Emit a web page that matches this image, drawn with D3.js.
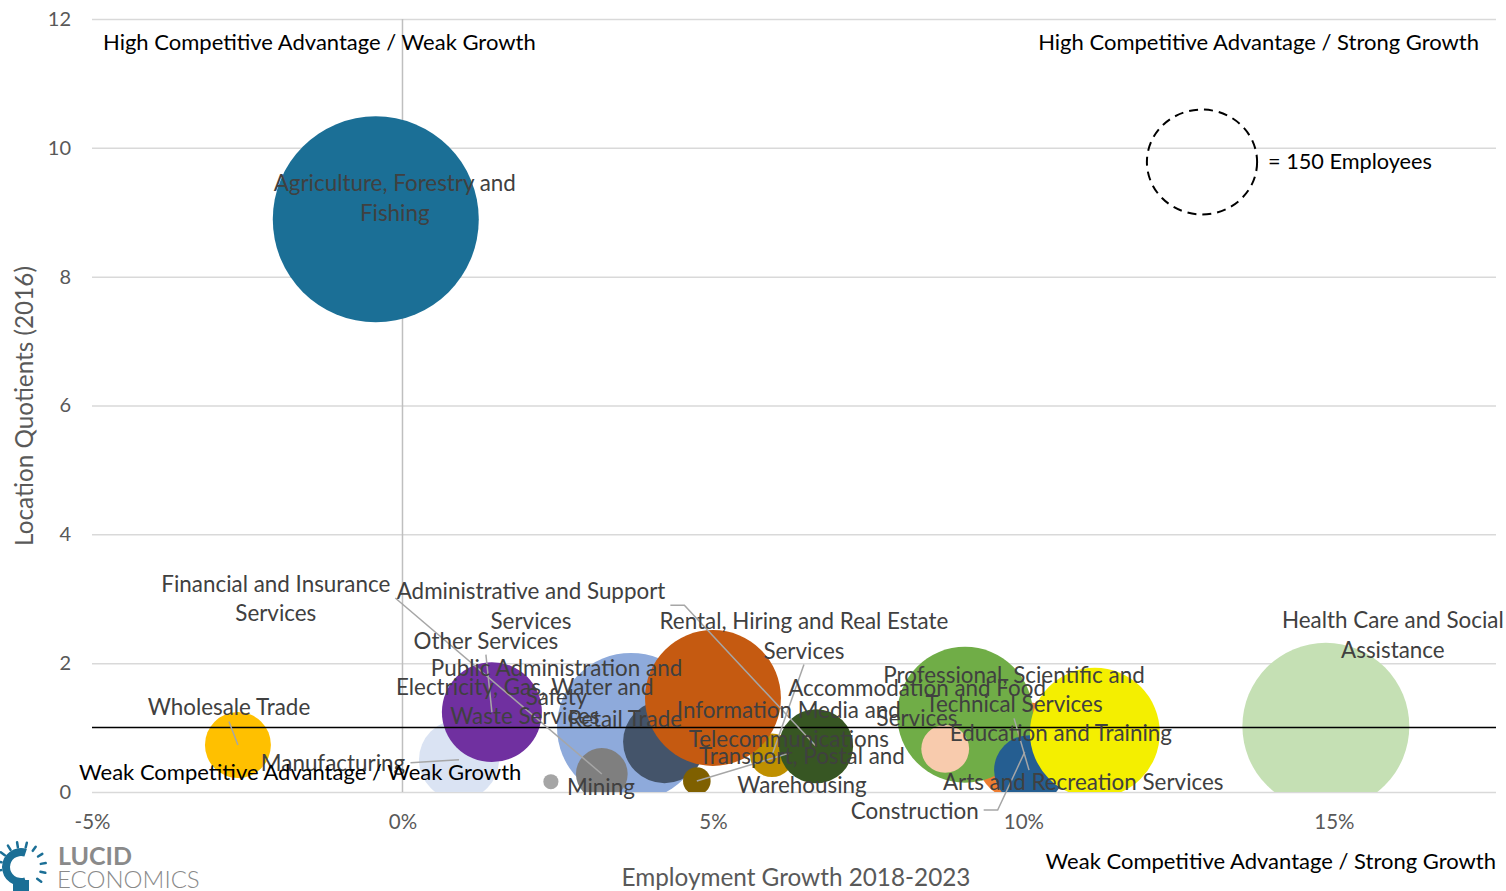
<!DOCTYPE html>
<html>
<head>
<meta charset="utf-8">
<script src="https://cdn.jsdelivr.net/npm/d3@7"></script>
<style>
  html, body { margin: 0; padding: 0; background: #fff; }
  svg { display: block; font-family: Lato, "Open Sans", sans-serif; }
</style>
</head>
<body>
<svg id="chart" width="1506" height="891"></svg>
<script>
// Industry divisions, in drawing order (later ones sit on top)
const industries = [
  "Agriculture, Forestry and Fishing",
  "Health Care and Social Assistance",
  "Retail Trade",
  "Public Administration and Safety",
  "Mining",
  "Financial and Insurance Services",
  "Manufacturing",
  "Electricity, Gas, Water and Waste Services",
  "Other Services",
  "Wholesale Trade",
  "Rental, Hiring and Real Estate Services",
  "Transport, Postal and Warehousing",
  "Information Media and Telecommunications",
  "Administrative and Support Services",
  "Construction",
  "Accommodation and Food Services",
  "Arts and Recreation Services",
  "Professional, Scientific and Technical Services",
  "Education and Training"
];
// Employment growth 2018-2023 (%)
const growth = [-0.43, 14.87, 3.68, 4.22, 2.39, 3.21, 0.91, 1.97, 1.44, -2.65,
                5.95, 5.00, 4.74, 6.66, 10.02, 9.06, 8.74, 10.09, 11.15];
// Location quotients (2016)
const lq = [8.89, 1.02, 1.01, 0.78, 0.16, 0.28, 0.50, 1.41, 1.24, 0.73,
            0.57, 1.46, 0.17, 0.71, 0.62, 1.20, 0.67, 0.34, 0.92];
// Employees (bubble size)
const employees = [556, 365, 287, 90, 3, 35, 84, 5, 131, 57,
                   25, 242, 10, 72, 131, 242, 30, 64, 221];

const xTicks = [-5, 0, 5, 10, 15];
const yTicks = [0, 2, 4, 6, 8, 10, 12];
const legendEmployees = 150;

// Bubble fills, same order as the industries
const fills = ["#1b6f96", "#c5e0b4", "#8eaadb", "#44546a", "#a5a5a5", "#7f7f7f",
               "#dae3f3", "#7030a0", "#7030a0", "#ffc000", "#bf9000", "#c55a11",
               "#7f6000", "#375623", "#ed7d31", "#70ad47", "#f8cbad", "#255e91",
               "#f4ef00"];

// Data-label placement: pixel offset of the label block from the bubble centre,
// and where a leader line leaves the label (null = no leader)
const labelLayout = [
  {dx: 19, dy: -22, lines: ["Agriculture, Forestry and", "Fishing"], leader: null},
  {dx: 67, dy: -92, lines: ["Health Care and Social", "Assistance"], leader: null},
  {dx: -6, dy: -8, lines: ["Retail Trade"], leader: null},
  {dx: -108, dy: -60, lines: ["Public Administration and", "Safety"], leader: null},
  {dx: 50, dy: 5, lines: ["Mining"], leader: null},
  {dx: -326, dy: -176, lines: ["Financial and Insurance", "Services"], leader: "right"},
  {dx: -126, dy: 3, lines: ["Manufacturing"], leader: "right"},
  {dx: 0, dy: 0, lines: ["Electricity, Gas, Water and", "Waste Services"], leader: null},
  {dx: -6, dy: -72, lines: ["Other Services"], leader: "bottom"},
  {dx: -9, dy: -38, lines: ["Wholesale Trade"], leader: "bottom"},
  {dx: 32, dy: -120, lines: ["Rental, Hiring and Real Estate", "Services"], leader: "bottom"},
  {dx: 89, dy: 72, lines: ["Transport, Postal and", "Warehousing"], leader: null},
  {dx: 92, dy: -57, lines: ["Information Media and", "Telecommunications"], leader: "bottom"},
  {dx: -285, dy: -141, lines: ["Administrative and Support", "Services"], leader: "rightStub"},
  {dx: -110, dy: 58, lines: ["Construction"], leader: "rightStub"},
  {dx: -48, dy: -12, lines: ["Accommodation and Food", "Services"], leader: null},
  {dx: 138, dy: 33, lines: ["Arts and Recreation Services"], leader: null},
  {dx: -15, dy: -81, lines: ["Professional, Scientific and", "Technical Services"], leader: "bottom"},
  {dx: -34, dy: 0, lines: ["Education and Training"], leader: null}
];

const W = 1506, H = 891;
const plot = {left: 92, right: 1496, top: 19, bottom: 792};

const svg = d3.select("#chart");
svg.append("rect").attr("width", W).attr("height", H).attr("fill", "#fff");

const x = d3.scaleLinear().domain([-5, 17.61]).range([plot.left, plot.right]);
const y = d3.scaleLinear().domain([0, 12]).range([plot.bottom, plot.top]);
const r = d3.scaleSqrt().domain([0, legendEmployees]).range([0, 53.5]);

// Horizontal gridlines and y tick labels
const yAxis = d3.axisLeft(y).tickValues(yTicks).tickSize(-(plot.right - plot.left)).tickPadding(21)
  .tickFormat(d3.format("d"));
const gy = svg.append("g").attr("transform", `translate(${plot.left},0)`).call(yAxis);
gy.select(".domain").remove();
gy.selectAll(".tick line").attr("stroke", "#d9d9d9").attr("stroke-width", 1.5);
gy.selectAll(".tick text").attr("fill", "#595959").style("font-size", "20px")
  .style("font-family", "Lato, sans-serif");

// x tick labels
const xAxis = d3.axisBottom(x).tickValues(xTicks).tickSize(0).tickPadding(22)
  .tickFormat(d => d + "%");
const gx = svg.append("g").attr("transform", `translate(0,${plot.bottom})`).call(xAxis);
gx.select(".domain").remove();
gx.selectAll(".tick text").attr("fill", "#595959").style("font-size", "20.5px")
  .style("font-family", "Lato, sans-serif");

// Zero-growth divider
svg.append("line")
  .attr("x1", x(0)).attr("x2", x(0)).attr("y1", plot.top).attr("y2", plot.bottom)
  .attr("stroke", "#bfbfbf").attr("stroke-width", 1.5);

// Bubbles
svg.append("clipPath").attr("id", "plot-clip").append("rect")
  .attr("x", plot.left).attr("y", plot.top)
  .attr("width", plot.right - plot.left).attr("height", plot.bottom - plot.top);

const rows = industries.map((name, i) => ({
  name, g: growth[i], q: lq[i], e: employees[i], fill: fills[i], lab: labelLayout[i]
}));

svg.append("g").attr("clip-path", "url(#plot-clip)")
  .selectAll("circle").data(rows).join("circle")
  .attr("cx", d => x(d.g)).attr("cy", d => y(d.q)).attr("r", d => r(d.e))
  .attr("fill", d => d.fill);

// LQ = 1 reference line
svg.append("line")
  .attr("x1", plot.left).attr("x2", plot.right).attr("y1", y(1)).attr("y2", y(1))
  .attr("stroke", "#000").attr("stroke-width", 1.5);

// Data labels
const lineGap = 29.5;
const leaderLayer = svg.append("g");
const labelLayer = svg.append("g");
rows.forEach(d => {
  const cx = x(d.g) + d.lab.dx, cy = y(d.q) + d.lab.dy;
  const n = d.lab.lines.length;
  const t = labelLayer.append("text")
    .attr("text-anchor", "middle").attr("fill", "#404040")
    .style("font-size", "22.4px");
  d.lab.lines.forEach((ln, k) => {
    t.append("tspan").attr("x", cx)
      .attr("y", cy + (k - (n - 1) / 2) * lineGap)
      .attr("dominant-baseline", "central").text(ln);
  });
  if (d.lab.leader) {
    const bb = t.node().getBBox();
    const px = x(d.g), py = y(d.q);
    let pts;
    if (d.lab.leader === "bottom") {
      pts = [[cx, bb.y + bb.height + 1], [px, py]];
    } else if (d.lab.leader === "right") {
      pts = [[bb.x + bb.width + 5, cy], [px, py]];
    } else {
      const sx = bb.x + bb.width + 5;
      pts = [[sx, cy], [sx + 14, cy], [px, py]];
    }
    leaderLayer.append("path").attr("d", d3.line()(pts))
      .attr("fill", "none").attr("stroke", "#a6a6a6").attr("stroke-width", 1.5);
  }
});

// Quadrant captions
const quad = svg.append("g").attr("fill", "#000").style("font-size", "22px");
quad.append("text").attr("x", 103).attr("y", 41).attr("dominant-baseline", "central")
  .text("High Competitive Advantage / Weak Growth");
quad.append("text").attr("x", 1479).attr("y", 41).attr("text-anchor", "end")
  .attr("dominant-baseline", "central").text("High Competitive Advantage / Strong Growth");
quad.append("text").attr("x", 79).attr("y", 771).attr("dominant-baseline", "central")
  .text("Weak Competitive Advantage / Weak Growth");
quad.append("text").attr("x", 1496).attr("y", 860).attr("text-anchor", "end")
  .attr("dominant-baseline", "central").text("Weak Competitive Advantage / Strong Growth");

// Bubble size key
const key = svg.append("g");
key.append("ellipse").attr("cx", 1202).attr("cy", 162)
  .attr("rx", r(legendEmployees) * 1.03).attr("ry", r(legendEmployees) * 0.98)
  .attr("fill", "none").attr("stroke", "#000").attr("stroke-width", 2)
  .attr("stroke-dasharray", "9,6");
key.append("text").attr("x", 1268).attr("y", 161).attr("dominant-baseline", "central")
  .style("font-size", "21.7px").attr("fill", "#000").text("= " + legendEmployees + " Employees");

// Axis titles
svg.append("text").attr("x", 796).attr("y", 876).attr("text-anchor", "middle")
  .attr("dominant-baseline", "central").attr("fill", "#595959").style("font-size", "24.3px")
  .text("Employment Growth 2018-2023");
svg.append("text").attr("transform", "translate(23,406) rotate(-90)")
  .attr("text-anchor", "middle").attr("dominant-baseline", "central")
  .attr("fill", "#595959").style("font-size", "24.3px").text("Location Quotients (2016)");

// Company mark: light bulb with rays, then the wordmark
const logo = svg.append("g");
const teal = "#1b6f96";
logo.append("path")
  .attr("d", d3.arc()({innerRadius: 11, outerRadius: 19, startAngle: Math.PI * 0.9, endAngle: Math.PI * 2.1}))
  .attr("transform", "translate(21,867)").attr("fill", teal);
logo.append("rect").attr("x", 13).attr("y", 880).attr("width", 16).attr("height", 11).attr("fill", teal);
d3.range(11).forEach(i => {
  const a = -Math.PI * 0.55 + i * (Math.PI * 1.25 / 10);
  logo.append("line")
    .attr("x1", 21 + Math.sin(a) * 20).attr("y1", 867 - Math.cos(a) * 20)
    .attr("x2", 21 + Math.sin(a) * 25).attr("y2", 867 - Math.cos(a) * 25)
    .attr("stroke", teal).attr("stroke-width", 2.5).attr("stroke-linecap", "round");
});
logo.append("text").attr("x", 58).attr("y", 865).attr("fill", "#8a8a8a")
  .style("font-size", "25px").style("font-weight", "700").text("LUCID");
logo.append("text").attr("x", 57).attr("y", 888).attr("fill", "#8a8a8a")
  .style("font-size", "24px").style("font-weight", "300").text("ECONOMICS");
</script>
</body>
</html>
